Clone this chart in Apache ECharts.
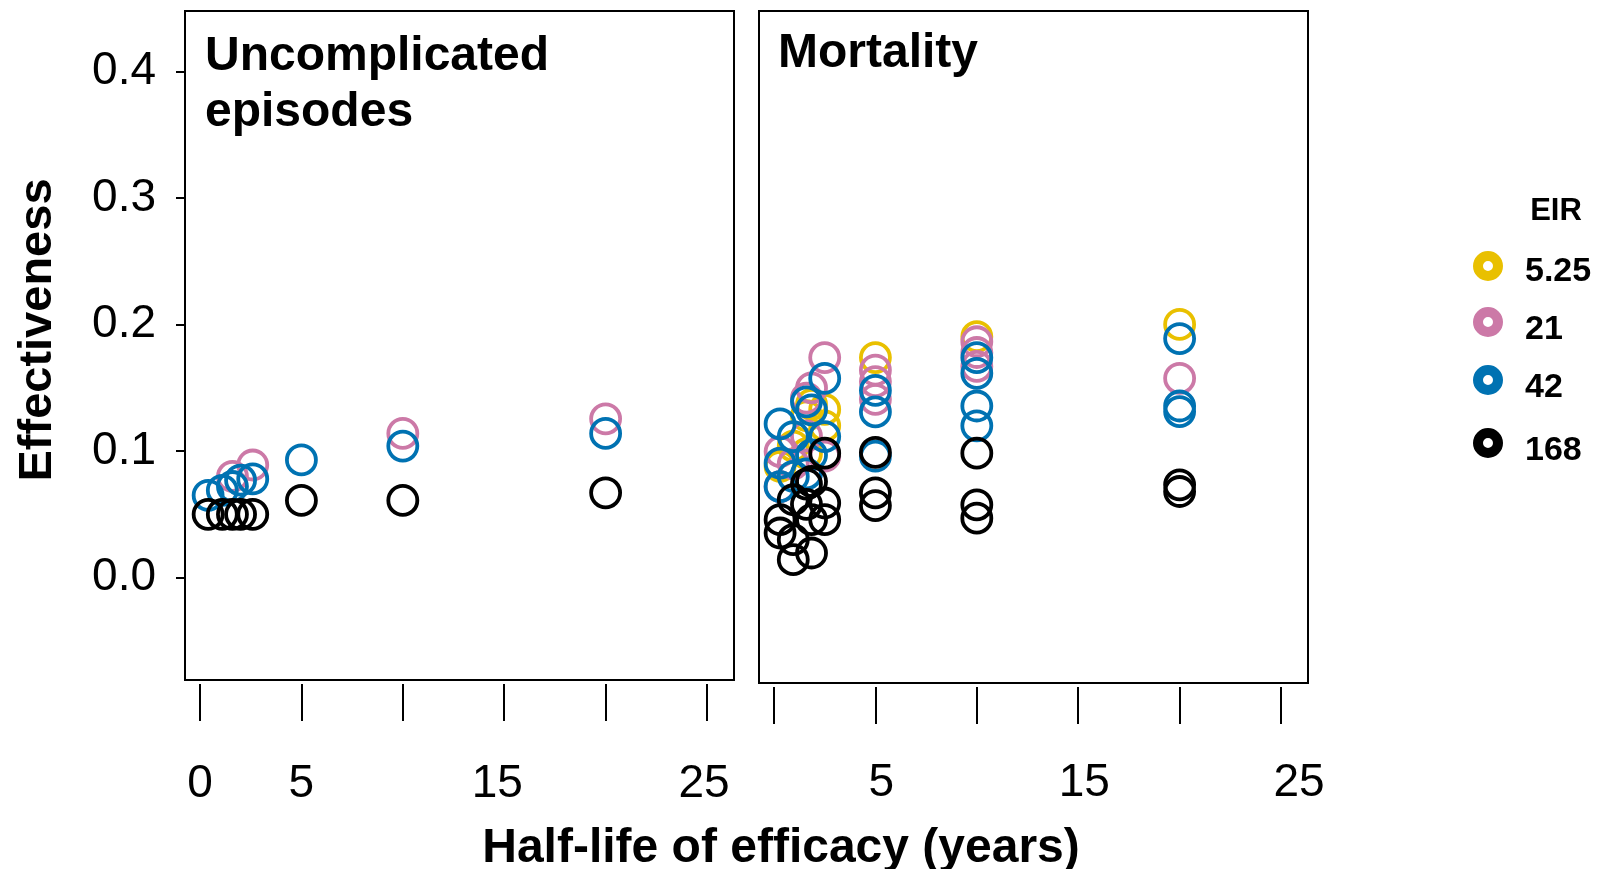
<!DOCTYPE html>
<html><head><meta charset="utf-8">
<script src="https://cdn.jsdelivr.net/npm/echarts@6/dist/echarts.min.js"></script>
<style>html,body{margin:0;padding:0;background:#fff}#chart{width:1599px;height:869px}</style>
</head><body><div id="chart"></div>
<script>
// ---- data ----
const eirLevels = ['5.25', '21', '42', '168'];
const panelTitles = ['Uncomplicated\nepisodes', 'Mortality'];
const yTickValues = [0, 0.1, 0.2, 0.3, 0.4];
const xTickValues = [0, 5, 10, 15, 20, 25];
const xLabelValues = [[0, 5, 15, 25], [5, 15, 25]];
const xTitle = 'Half-life of efficacy (years)';
const yTitle = 'Effectiveness';
const legendTitle = 'EIR';

// Uncomplicated episodes panel: [half-life, effectiveness]
const unc_5_25 = [];
const unc_21 = [[1.6, 0.080], [2.6, 0.089], [10, 0.114], [20, 0.1255]];
const unc_42 = [[0.4, 0.065], [1.1, 0.069], [1.6, 0.072], [2.0, 0.077], [2.6, 0.078], [5, 0.093], [10, 0.104], [20, 0.114]];
const unc_168 = [[0.4, 0.050], [1.1, 0.050], [1.6, 0.050], [2.0, 0.050], [2.6, 0.050], [5, 0.061], [10, 0.061], [20, 0.067]];

// Mortality panel
const mort_5_25 = [[1.6, 0.128], [1.85, 0.137], [2.5, 0.133], [2.5, 0.120], [0.95, 0.104], [1.6, 0.098], [0.3, 0.088],
  [5, 0.174], [10, 0.1905], [20, 0.2002]];
const mort_21 = [[2.5, 0.174], [1.85, 0.150], [1.6, 0.142], [0.3, 0.0997], [2.5, 0.096], [0.3, 0.072], [0.95, 0.090], [1.6, 0.112],
  [5, 0.164], [5, 0.155], [5, 0.141], [10, 0.1865], [10, 0.178], [10, 0.167], [20, 0.1576]];
const mort_42 = [[2.5, 0.1576], [1.6, 0.139], [1.85, 0.1326], [0.3, 0.1215], [0.95, 0.1115], [2.5, 0.1115], [0.3, 0.0905],
  [0.95, 0.080], [1.6, 0.082], [0.3, 0.072], [1.85, 0.097],
  [5, 0.148], [5, 0.131], [5, 0.096], [10, 0.174], [10, 0.1615], [10, 0.1357], [10, 0.120], [20, 0.189], [20, 0.1357], [20, 0.1313]];
const mort_168 = [[2.5, 0.0984], [1.85, 0.076], [1.6, 0.074], [2.5, 0.059], [0.95, 0.0616], [0.3, 0.0458], [0.3, 0.0353],
  [0.95, 0.030], [0.95, 0.0142], [1.85, 0.0195], [1.85, 0.0458], [2.5, 0.0458], [1.6, 0.058],
  [5, 0.099], [5, 0.067], [5, 0.057], [10, 0.0984], [10, 0.0576], [10, 0.047], [20, 0.0734], [20, 0.0681]];

const panelData = [
  [unc_5_25, unc_21, unc_42, unc_168],
  [mort_5_25, mort_21, mort_42, mort_168]
];

// ---- style ----
const palette = ['#E9C000', '#CC79A7', '#0072B2', '#000000'];
const FONT = '"Liberation Sans", Arial, Helvetica, sans-serif';

const grids = [
  { left: 185, top: 11, width: 549, height: 669 },
  { left: 759, top: 11, width: 549, height: 672 }
];
const yMins = [-0.081, -0.0833];
const xLabelMargins = [77, 73];
// small horizontal nudges of tick labels (px, + = right) to follow the original's placement
const labelNudge = [{ 15: -7, 25: -3 }, { 5: 6, 15: 6, 25: 18 }];

function xLabelFormatter(p) {
  return function (v) {
    const d = labelNudge[p][v] || 0;
    if (!d) return '{n|' + v + '}';
    return (d > 0 ? '{r' : '{l') + Math.abs(d) + '|' + v + '}';
  };
}
function xLabelRich(p) {
  const rich = { n: { fontSize: 46, color: '#000', fontFamily: FONT } };
  Object.values(labelNudge[p]).forEach(d => {
    const key = (d > 0 ? 'r' : 'l') + Math.abs(d);
    rich[key] = { fontSize: 46, color: '#000', fontFamily: FONT,
      padding: d > 0 ? [0, 0, 0, 2 * d] : [0, 2 * Math.abs(d), 0, 0] };
  });
  return rich;
}

const option = {
  backgroundColor: '#fff',
  animation: false,
  textStyle: { fontFamily: FONT },
  title: panelTitles.map((t, i) => ({
    text: t,
    left: i === 0 ? 200 : 773,
    top: i === 0 ? 24 : 21,
    textStyle: { fontFamily: FONT, fontSize: 48, fontWeight: 'bold', color: '#000', lineHeight: 56 }
  })),
  grid: grids.map(g => Object.assign({ show: true, borderColor: '#000', borderWidth: 2, backgroundColor: 'transparent' }, g)),
  xAxis: grids.map((g, i) => ({
    type: 'value', gridIndex: i, min: -0.74, max: 26.33,
    position: 'bottom',
    offset: 4,
    axisLine: { show: false, onZero: false },
    splitLine: { show: false },
    axisTick: { show: true, inside: false, length: 37, lineStyle: { color: '#000', width: 2 }, customValues: xTickValues },
    axisLabel: { customValues: xLabelValues[i], fontSize: 46, color: '#000', margin: xLabelMargins[i], fontFamily: FONT,
      formatter: xLabelFormatter(i), rich: xLabelRich(i) }
  })),
  yAxis: grids.map((g, i) => ({
    type: 'value', gridIndex: i, min: yMins[i], max: 0.448,
    position: 'left',
    show: i === 0,
    axisLine: { show: false, onZero: false },
    splitLine: { show: false },
    axisTick: { show: true, inside: false, length: 9, lineStyle: { color: '#000', width: 2 }, customValues: yTickValues },
    axisLabel: { customValues: yTickValues, fontSize: 46, color: '#000', margin: 29, fontFamily: FONT,
      formatter: v => v.toFixed(1) }
  })),
  series: [],
  graphic: []
};

panelData.forEach((sets, p) => {
  sets.forEach((arr, i) => {
    option.series.push({
      type: 'scatter', name: eirLevels[i], xAxisIndex: p, yAxisIndex: p,
      data: arr, symbol: 'circle', symbolSize: 29,
      itemStyle: { color: 'rgba(0,0,0,0)', borderColor: palette[i], borderWidth: 3.8, opacity: 1 },
      emphasis: { disabled: true }
    });
  });
});

// axis titles
option.graphic.push({
  type: 'text', x: 781, y: 849,
  style: { text: xTitle, font: 'bold 48px ' + FONT, fill: '#000', align: 'center', verticalAlign: 'middle' }
});
option.graphic.push({
  type: 'text', x: 38, y: 330, rotation: Math.PI / 2,
  style: { text: yTitle, font: 'bold 47px ' + FONT, fill: '#000', align: 'center', verticalAlign: 'middle' }
});

// legend
const legX = 1488, legY0 = 266, legGaps = [0, 56, 114, 177], legLabelDy = [6, 8, 8, 8];
option.graphic.push({
  type: 'text', x: 1556, y: 211,
  style: { text: legendTitle, font: 'bold 31px ' + FONT, fill: '#000', align: 'center', verticalAlign: 'middle' }
});
eirLevels.forEach((lab, i) => {
  option.graphic.push({
    type: 'ring', shape: { cx: legX, cy: legY0 + legGaps[i], r: 15, r0: 5 },
    style: { fill: palette[i] }
  });
  option.graphic.push({
    type: 'text', x: 1525, y: legY0 + legGaps[i] + legLabelDy[i],
    style: { text: lab, font: 'bold 34px ' + FONT, fill: '#000', align: 'left', verticalAlign: 'middle' }
  });
});

const chart = echarts.init(document.getElementById('chart'), null, { renderer: 'canvas' });
chart.setOption(option);
</script>
</body></html>
